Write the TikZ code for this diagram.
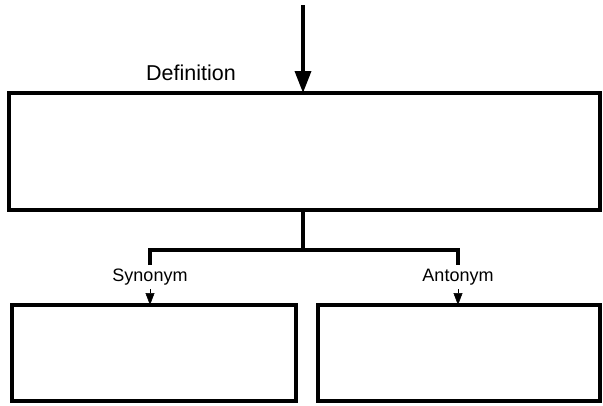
\documentclass[tikz,border=0pt]{standalone}
\usepackage{fontspec}
\setmainfont{Liberation Sans}
\usetikzlibrary{arrows.meta}
\begin{document}
\begin{tikzpicture}[x=1pt,y=-1pt,
  box/.style={draw,line width=4pt,inner sep=0pt,outer sep=0pt},
  lbl/.style={inner sep=0pt,anchor=base,font=\fontsize{18pt}{20pt}\selectfont},
  conn/.style={line width=3.5pt},
  small/.style={line width=0.5pt,-{Triangle[width=9pt,length=12pt]}}]
\useasboundingbox (0,0) rectangle (603,405);
\node[box,minimum width=591pt,minimum height=117pt] (def) at (304.5,151.5) {};
\node[box,minimum width=284pt,minimum height=96pt] (syn) at (154,353) {};
\node[box,minimum width=282pt,minimum height=96pt] (ant) at (459,353) {};
\node[lbl,font=\fontsize{21.5pt}{24pt}\selectfont] (deflbl) at (191,80) {Definition};
\node[lbl] (synlbl) at (150,281) {Synonym};
\node[lbl] (antlbl) at (458,281) {Antonym};
\coordinate (top) at (303,5);
\draw[conn,-{Triangle[width=16pt,length=22pt]}] (top) -- (def.north -| top);
\coordinate (stem) at (303,250);
\coordinate (sl) at (150,250);
\coordinate (ar) at (458,250);
\coordinate (slend) at (150,265);
\coordinate (arend) at (458,265);
\draw[conn] (def.south -| stem) -- (stem);
\draw[conn] (slend) -- (sl) -- (ar) -- (arend);
\draw[small] (150,289) -- (syn.north -| synlbl);
\draw[small] (458,289) -- (ant.north -| antlbl);
\end{tikzpicture}
\end{document}
